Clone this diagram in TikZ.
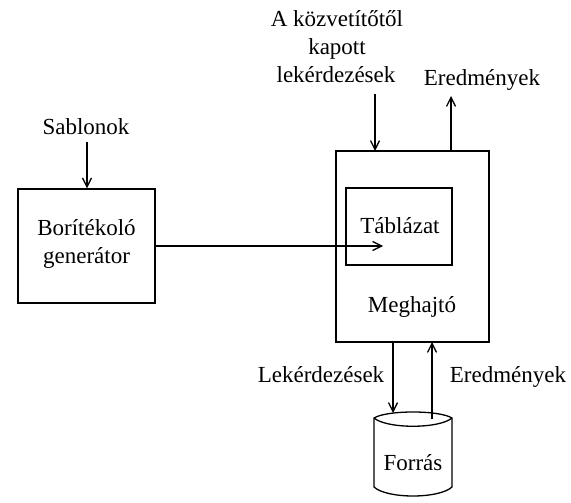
\documentclass[tikz,border=0pt]{standalone}
\usepackage{fontspec}
\setmainfont{Liberation Serif}
\usetikzlibrary{arrows.meta}
\begin{document}
\begin{tikzpicture}[x=1pt,y=-1pt,
  line width=1.3pt,
  txt/.style={inner sep=0pt,anchor=base,font=\fontsize{23}{28}\selectfont},
  boxnode/.style={draw,rectangle,inner sep=0pt},
  flow/.style={-{Straight Barb[length=9pt,width=9pt]}}]
\useasboundingbox (0,0) rectangle (571,503);

% boxes
\node[boxnode,minimum width=137pt,minimum height=114pt] (gen) at (86.5,246) {};
\node[boxnode,minimum width=153pt,minimum height=191pt] (drv) at (412.5,246.5) {};
\node[boxnode,minimum width=106pt,minimum height=77pt] (tab) at (399,226.5) {};

% texts
\node[txt] (gen1) at (86.5,235) {Borítékoló};
\node[txt] (gen2) at (86.5,263) {generátor};
\node[txt] (tabl) at (400,233) {Táblázat};
\node[txt] (drvl) at (412,312) {Meghajtó};
\node[txt] (sab) at (86,135) {Sablonok};
\node[txt] (q1) at (337,27) {A közvetítőtől};
\node[txt] (q2) at (337,55) {kapott};
\node[txt] (q3) at (336,83) {lekérdezések};
\node[txt] (res1) at (482,85) {Eredmények};
\node[txt] (lek) at (321,382) {Lekérdezések};
\node[txt] (res2) at (508,382) {Eredmények};

% source cylinder
\draw (374,418) .. controls (387,410) and (439,410) .. (452,418)
      -- (452,487) .. controls (439,499) and (387,499) .. (374,487) -- cycle;
\draw (374,418) .. controls (387,429) and (439,429) .. (452,418);
\node[txt] (src) at (413,470) {Forrás};

% connector end points
\coordinate (sabS) at (87,142);
\coordinate (q3S) at (375,94);
\coordinate (drvIn) at (375,151);
\coordinate (drvOut) at (451,151);
\coordinate (res1S) at (451,96);
\coordinate (tabTip) at (383,246);
\coordinate (drvDownS) at (393,342);
\coordinate (srcIn) at (393,413);
\coordinate (srcOut) at (432,419);
\coordinate (drvUpE) at (432,342);

% connectors
\draw[flow] (sabS) -- (gen.north -| sabS);
\draw[flow] (gen.east) -- (tabTip);
\draw[flow] (q3S) -- (drvIn);
\draw[flow] (drvOut) -- (res1S);
\draw[flow] (drvDownS) -- (srcIn);
\draw[flow] (srcOut) -- (drvUpE);
\end{tikzpicture}
\end{document}
